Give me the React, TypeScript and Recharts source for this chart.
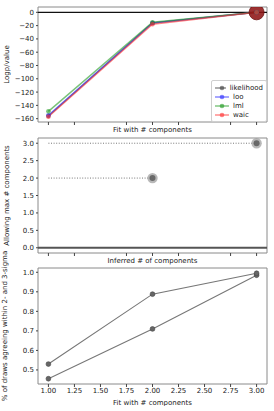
import { ComposedChart, Line, Scatter, XAxis, YAxis, ReferenceLine, ReferenceArea, Legend, Label } from 'recharts';

const FIT_COMPONENTS = [1, 2, 3];
const X_TICKS = [1, 1.25, 1.5, 1.75, 2, 2.25, 2.5, 2.75, 3];

// panel 1: log-probability by criterion
const likelihood = [-156, -16, 0];
const loo = [-155, -16, 0];
const lml = [-149, -15, 0];
const waic = [-157, -18, 0];
const BEST_FIT = 3;
const BEST_VALUE = 0;
const LOGP_TICKS = [-160, -140, -120, -100, -80, -60, -40, -20, 0];

// panel 2: inferred vs allowed max components
const maxComponents = [2, 3];
const inferredComponents = [2, 3];
const LINE_START = 1;
const MAX_TICKS = [0, 0.5, 1, 1.5, 2, 2.5, 3];

// panel 3: fraction within sigma bands
const within2Sigma = [0.455, 0.71, 0.985];
const within3Sigma = [0.53, 0.888, 0.995];
const PCT_TICKS = [0.5, 0.6, 0.7, 0.8, 0.9, 1.0];

const SERIES = [
  { name: 'likelihood', values: likelihood, color: '#3a3a3a' },
  { name: 'loo', values: loo, color: '#2b2bff' },
  { name: 'lml', values: lml, color: '#1f9a1f' },
  { name: 'waic', values: waic, color: '#ff3030' },
];

const FONT = 'DejaVu Sans, sans-serif';
const FRAME = '#8a8a8a';
const toPts = (ys: number[]) => FIT_COMPONENTS.map((x, i) => ({ x, y: ys[i] }));
const minus = (v: number) => String(v).replace('-', '\u2212');
const tickStyle = { fontSize: 7, fill: '#222', fontFamily: FONT };
const labelStyle = { fontSize: 7, fill: '#222', fontFamily: FONT };
const noTick = () => <g />;

function LegendBox() {
  return (
    <div style={{ border: '1px solid #cfcfcf', borderRadius: 2, background: 'rgba(255,255,255,0.85)', padding: '2px 3px', fontFamily: FONT }}>
      {SERIES.map((s) => (
        <div key={s.name} style={{ display: 'flex', alignItems: 'center', height: 9, fontSize: 7, color: '#222' }}>
          <svg width={14} height={8} style={{ marginRight: 4 }}>
            <line x1={0} y1={4} x2={14} y2={4} stroke={s.color} strokeOpacity={0.6} strokeWidth={1.4} />
            <circle cx={7} cy={4} r={2.3} fill={s.color} fillOpacity={0.6} />
          </svg>
          {s.name}
        </div>
      ))}
    </div>
  );
}

function Frame({ y1, y2 }: { y1: number; y2: number }) {
  return <ReferenceArea x1={0.9} x2={3.1} y1={y1} y2={y2} fill="none" stroke={FRAME} strokeWidth={1} ifOverflow="visible" />;
}

function BigDot(props: any) {
  return <circle cx={props.cx} cy={props.cy} r={7.5} fill="#8e1515" fillOpacity={0.88} stroke="#6a0e0e" strokeWidth={0.8} />;
}

function RingDot(props: any) {
  return (
    <g>
      <circle cx={props.cx} cy={props.cy} r={5.2} fill="#9a9a9a" fillOpacity={0.7} />
      <circle cx={props.cx} cy={props.cy} r={3} fill="#555" fillOpacity={0.8} />
    </g>
  );
}

function GreyDot(props: any) {
  return <circle cx={props.cx} cy={props.cy} r={2.4} fill="#666" stroke="#444" strokeWidth={0.6} />;
}

export default function App() {
  return (
    <div style={{ position: 'absolute', left: 0, top: 0, width: 274, height: 411, background: '#fff', fontFamily: FONT }}>
      <div style={{ position: 'absolute', left: 0, top: 0 }}>
        <ComposedChart width={274} height={134} margin={{ top: 7, right: 7, bottom: 0, left: 0 }}>
          <XAxis dataKey="x" type="number" domain={[0.9, 3.1]} ticks={X_TICKS} allowDataOverflow axisLine={false} tick={noTick} tickSize={3} tickLine={{ stroke: '#444' }} height={12}>
            <Label value="Fit with # components" position="insideBottom" offset={2} style={labelStyle} />
          </XAxis>
          <YAxis type="number" domain={[-165, 8]} ticks={LOGP_TICKS} allowDataOverflow axisLine={false} width={38} tickSize={2} tickMargin={2} tickLine={{ stroke: '#444' }} tick={tickStyle} tickFormatter={minus}>
            <Label value="Logp/value" angle={-90} position="insideLeft" offset={7} style={{ ...labelStyle, textAnchor: 'middle' }} />
          </YAxis>
          <ReferenceLine y={0} stroke="#111" strokeWidth={1.3} />
          {SERIES.map((s) => (
            <Line key={s.name} data={toPts(s.values)} dataKey="y" name={s.name} stroke={s.color} strokeOpacity={0.6} strokeWidth={1.4} dot={{ r: 2.3, fill: s.color, fillOpacity: 0.6, stroke: 'none' }} isAnimationActive={false} />
          ))}
          <Scatter data={[{ x: BEST_FIT, y: BEST_VALUE }]} dataKey="y" shape={BigDot} legendType="none" isAnimationActive={false} />
          <Frame y1={-165} y2={8} />
          <Legend layout="vertical" align="center" verticalAlign="middle" content={<LegendBox />} wrapperStyle={{ position: 'absolute', left: 211, top: 80, width: 56 }} />
        </ComposedChart>
      </div>

      <div style={{ position: 'absolute', left: 0, top: 130 }}>
        <ComposedChart width={274} height={135} margin={{ top: 8, right: 7, bottom: 0, left: 0 }}>
          <XAxis dataKey="x" type="number" domain={[0.9, 3.1]} ticks={X_TICKS} allowDataOverflow axisLine={false} tick={noTick} tickSize={3} tickLine={{ stroke: '#444' }} height={12}>
            <Label value="Inferred # of components" position="insideBottom" offset={2} style={labelStyle} />
          </XAxis>
          <YAxis type="number" domain={[-0.15, 3.15]} ticks={MAX_TICKS} allowDataOverflow axisLine={false} width={38} tickSize={2} tickMargin={2} tickLine={{ stroke: '#444' }} tick={tickStyle} tickFormatter={(v: number) => v.toFixed(1)}>
            <Label value="Allowing max # components" angle={-90} position="insideLeft" offset={7} style={{ ...labelStyle, textAnchor: 'middle' }} />
          </YAxis>
          <ReferenceLine y={0} stroke="#555" strokeWidth={2} />
          {maxComponents.map((m, i) => (
            <Line key={m} data={[{ x: LINE_START, y: m }, { x: inferredComponents[i], y: m }]} dataKey="y" stroke="#777" strokeWidth={1} strokeDasharray="1 1.6" dot={false} isAnimationActive={false} />
          ))}
          <Scatter data={inferredComponents.map((c, i) => ({ x: c, y: maxComponents[i] }))} dataKey="y" shape={RingDot} isAnimationActive={false} />
          <Frame y1={-0.15} y2={3.15} />
        </ComposedChart>
      </div>

      <div style={{ position: 'absolute', left: 0, top: 250 }}>
        <ComposedChart width={274} height={156} margin={{ top: 18, right: 7, bottom: 0, left: 0 }}>
          <XAxis dataKey="x" type="number" domain={[0.9, 3.1]} ticks={X_TICKS} allowDataOverflow axisLine={false} tickSize={3} tickMargin={1} tickLine={{ stroke: '#444' }} tick={tickStyle} tickFormatter={(v: number) => v.toFixed(2)} height={22}>
            <Label value="Fit with # components" position="insideBottom" offset={1} style={labelStyle} />
          </XAxis>
          <YAxis type="number" domain={[0.428, 1.022]} ticks={PCT_TICKS} allowDataOverflow axisLine={false} width={38} tickSize={2} tickMargin={2} tickLine={{ stroke: '#444' }} tick={tickStyle} tickFormatter={(v: number) => v.toFixed(1)}>
            <Label value="% of draws agreeing within 2- and 3-sigma" angle={-90} position="insideLeft" offset={5} style={{ ...labelStyle, textAnchor: 'middle' }} />
          </YAxis>
          <Line data={toPts(within2Sigma)} dataKey="y" stroke="#777" strokeWidth={1.1} dot={<GreyDot />} isAnimationActive={false} />
          <Line data={toPts(within3Sigma)} dataKey="y" stroke="#777" strokeWidth={1.1} dot={<GreyDot />} isAnimationActive={false} />
          <Frame y1={0.428} y2={1.022} />
        </ComposedChart>
      </div>
    </div>
  );
}
